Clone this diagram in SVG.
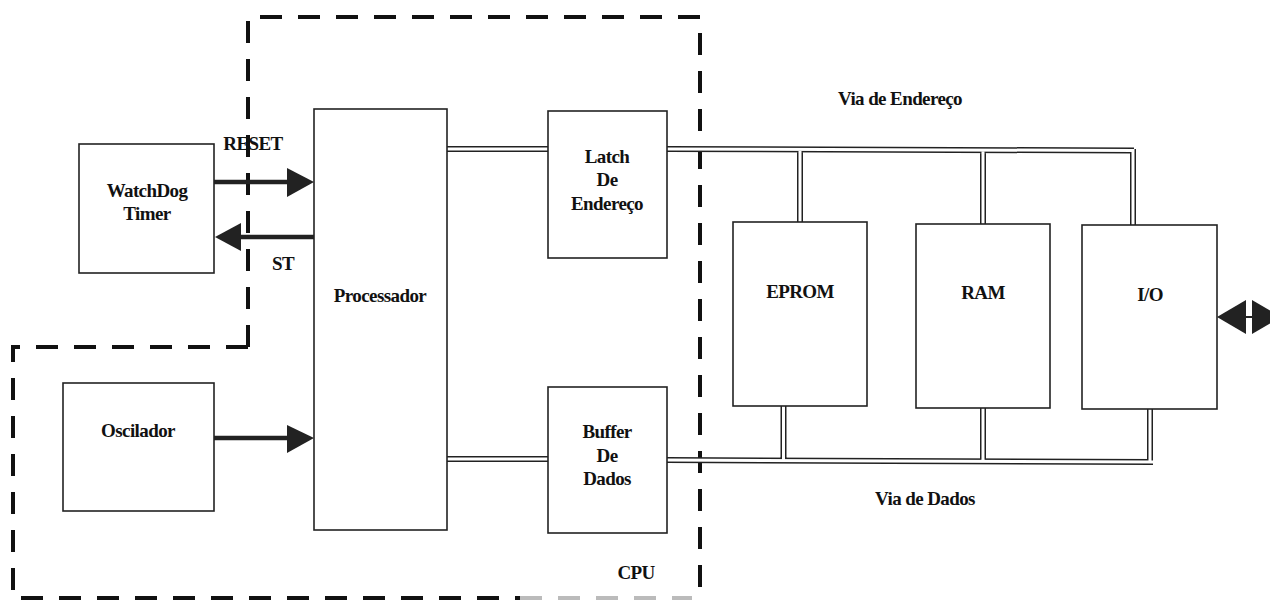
<svg xmlns="http://www.w3.org/2000/svg" width="1270" height="603" viewBox="0 0 1270 603">
<style>
.box{fill:#fff;stroke:#222;stroke-width:1.6}
.t{font-family:"Liberation Serif","Times New Roman",serif;font-weight:bold;font-size:19px;fill:#111;text-anchor:middle;letter-spacing:-0.6px}
.dash{fill:none;stroke:#111;stroke-width:4;stroke-dasharray:22 16}
.busO{fill:none;stroke:#222;stroke-width:6}
.busI{fill:none;stroke:#fff;stroke-width:3}
.shaft{stroke:#222;stroke-width:4.5}
.head{fill:#222}
</style>
<rect width="1270" height="603" fill="#fff"/>

<g id="boundaries">
<path class="dash" d="M248,347 V17 H700 V603"/>
<path class="dash" d="M248,347 H13 V598 H520"/>
<path class="dash" d="M520,598 H692" style="stroke:#bbb"/>
</g>

<g id="connectors">
<g id="buses-outer">
<path class="busO" d="M447,149 H548 M667,149 L1134,150.5 M1133,149 V225 M800,149 V222 M983,150 V224"/>
<path class="busO" d="M447,459 H548 M667,460 L1153,462 M783.5,406 V461 M983,408 V462 M1150,409 V462"/>
</g>
<g id="buses-inner">
<path class="busI" d="M447,149 H548 M667,149 L1134,150.5 M1133,149 V225 M800,149 V222 M983,150 V224"/>
<path class="busI" d="M447,459 H548 M667,460 L1153,462 M783.5,406 V461 M983,408 V462 M1150,409 V462"/>
</g>
<g id="reset-arrow">
<line class="shaft" x1="214" y1="182" x2="290" y2="182"/>
<polygon class="head" points="287,168 314,182 287,197"/>
</g>
<g id="st-arrow">
<line class="shaft" x1="238" y1="237" x2="314" y2="237"/>
<polygon class="head" points="241,223 215,237 241,251"/>
</g>
<g id="osc-arrow">
<line class="shaft" x1="214" y1="438" x2="290" y2="438"/>
<polygon class="head" points="287,425 314,438 287,453"/>
</g>
<g id="io-arrow">
<polygon class="head" points="1217,317 1246,300 1246,334"/>
<polygon class="head" points="1252,300 1281,317 1252,334"/>
<line x1="1244" y1="317" x2="1254" y2="317" stroke="#222" stroke-width="2"/>
</g>
</g>

<g id="watchdog">
<rect class="box" x="79" y="144" width="135" height="129"/>
<text class="t" x="147" y="197">WatchDog</text>
<text class="t" x="147" y="220">Timer</text>
</g>
<g id="oscilador">
<rect class="box" x="63" y="383" width="151" height="128"/>
<text class="t" x="138" y="437">Oscilador</text>
</g>
<g id="processador">
<rect class="box" x="314" y="109" width="133" height="421"/>
<text class="t" x="380" y="302">Processador</text>
</g>
<g id="latch">
<rect class="box" x="548" y="111" width="119" height="147"/>
<text class="t" x="607" y="163">Latch</text>
<text class="t" x="607" y="186">De</text>
<text class="t" x="607" y="210">Endereço</text>
</g>
<g id="buffer">
<rect class="box" x="548" y="387" width="119" height="146"/>
<text class="t" x="607" y="438">Buffer</text>
<text class="t" x="607" y="462">De</text>
<text class="t" x="607" y="485">Dados</text>
</g>
<g id="eprom">
<rect class="box" x="733" y="222" width="134" height="184"/>
<text class="t" x="800" y="298">EPROM</text>
</g>
<g id="ram">
<rect class="box" x="916" y="224" width="134" height="184"/>
<text class="t" x="983" y="299">RAM</text>
</g>
<g id="io">
<rect class="box" x="1082" y="225" width="135" height="184"/>
<text class="t" x="1150" y="301">I/O</text>
</g>

<g id="labels">
<text class="t" x="253" y="150">RESET</text>
<text class="t" x="283" y="270">ST</text>
<text class="t" x="900" y="105">Via de Endereço</text>
<text class="t" x="925" y="505">Via de Dados</text>
<text class="t" x="636" y="579">CPU</text>
</g>
</svg>
